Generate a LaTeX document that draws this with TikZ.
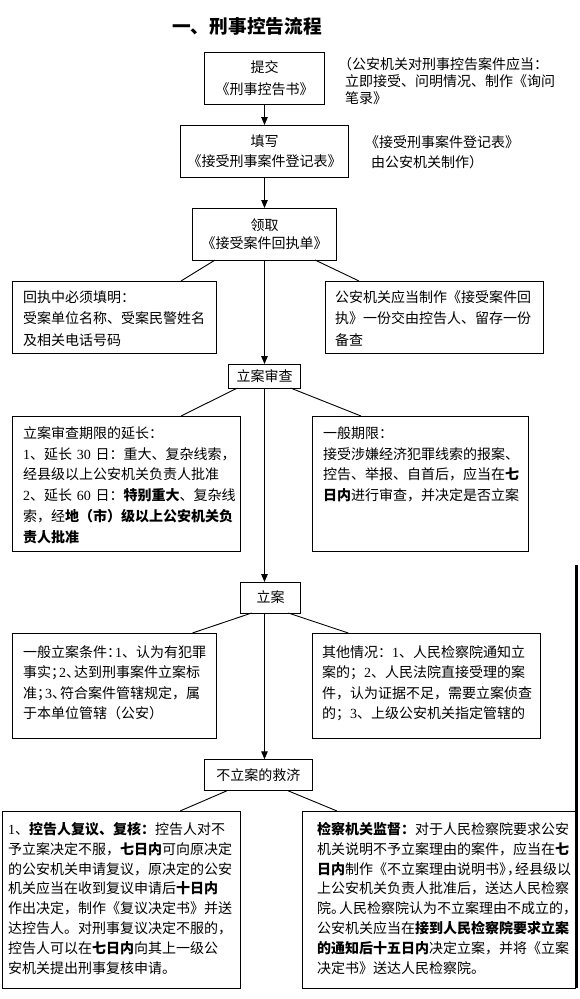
\documentclass[tikz,border=0pt]{standalone}
\usepackage{fontspec}
\setmainfont{Noto Sans CJK SC}
\newfontfamily\lat{Liberation Serif}
\usetikzlibrary{arrows.meta}
\newcommand\sq{\hspace{-6pt}}
\begin{document}
\begin{tikzpicture}[x=1pt,y=-1pt,
  box/.style={draw, line width=1pt, inner sep=0pt, outer sep=0pt, rectangle},
  arr/.style={line width=1pt, -{Triangle[length=8pt,width=6.5pt]}},
  ln/.style={line width=0.9pt},
  txt/.style={inner sep=0pt, anchor=base west, align=left, text width=280pt},
  fs/.style={font=\fontsize{14pt}{#1pt}\selectfont},
]
\useasboundingbox (0,0) rectangle (580,999);
\fill[white] (0,0) rectangle (580,999);

\node[font=\fontsize{18.7pt}{20pt}\selectfont\bfseries, inner sep=0pt] (title) at (247,26) {一、刑事控告流程};

% main column boxes
\node[box, minimum width=120pt, minimum height=52pt, align=center, fs=22] (b1) at (264.5,78) {提交\\《刑事控告书》};
\node[box, minimum width=168pt, minimum height=52pt, align=center, fs=20] (b2) at (264.5,151) {填写\\《接受刑事案件登记表》};
\node[box, minimum width=144pt, minimum height=52pt, align=center, fs=18] (b3) at (264.5,234) {领取\\《接受案件回执单》};
\node[box, minimum width=72pt, minimum height=24pt, fs=20] (sc) at (264.5,376) {立案审查};
\node[box, minimum width=60pt, minimum height=31pt, fs=20] (la) at (270.7,597.5) {立案};
\node[box, minimum width=108.5pt, minimum height=31.5pt, fs=20] (nl) at (258.25,775) {不立案的救济};

% side boxes
\node[box, minimum width=204.4pt, minimum height=72pt] (l1) at (114.2,317) {};
\node[box, minimum width=218pt, minimum height=72pt] (r1) at (434,317) {};
\node[box, minimum width=228.5pt, minimum height=135pt] (l2) at (126.25,483.5) {};
\node[box, minimum width=215.4pt, minimum height=135pt] (r2) at (420.3,483.5) {};
\node[box, minimum width=204.4pt, minimum height=105pt] (l3) at (114.2,685.5) {};
\node[box, minimum width=228.4pt, minimum height=105pt] (r3) at (426.5,685.5) {};
\node[box, minimum width=238pt, minimum height=177pt] (l4) at (121,899.5) {};
\node[box, minimum width=273.5pt, minimum height=177pt] (r4) at (438.75,899.5) {};

% notes
\node[txt, fs=17] (n1) at (345,69.3) {\hspace*{-7pt}（公安机关对刑事控告案件应当：\\立即接受、问明情况、制作《询问\\笔录》};
\node[txt, fs=20] (n2) at (371,147.3) {\hspace*{-6pt}《接受刑事案件登记表》\\由公安机关制作）};

% box texts
\node[txt, fs=21.5] (l1t) at (23,302.3) {回执中必须填明：\\受案单位名称、受案民警姓名\\及相关电话号码};
\node[txt, fs=21.5] (r1t) at (335,302.3) {公安机关应当制作《接受案件回\\执》一份交由控告人、留存一份\\备查};
\node[txt, fs=20.8] (l2t) at (23,438.3) {立案审查期限的延长：\\{\lat 1}、延长{\lat\ 30\ }日：重大、复杂线索，\\经县级以上公安机关负责人批准\\{\lat 2}、延长{\lat\ 60\ }日：\textbf{特别重大}、复杂线\\索，经\textbf{地（市）级以上公安机关负}\\\textbf{责人批准}};
\node[txt, fs=20.7] (r2t) at (323,438.3) {一般期限：\\接受涉嫌经济犯罪线索的报案、\\控告、举报、自首后，应当在\textbf{七}\\\textbf{日内}进行审查，并决定是否立案};
\node[txt, fs=20.4] (l3t) at (23,657.3) {一般立案条件：\sq{}{\lat 1}、认为有犯罪\\事实；\sq{}{\lat 2}、\sq{}达到刑事案件立案标\\准；\sq{}{\lat 3}、\sq{}符合案件管辖规定，属\\于本单位管辖（公安）};
\node[txt, fs=20.4] (r3t) at (322,657.3) {其他情况：{\lat 1}、人民检察院通知立\\案的；{\lat 2}、人民法院直接受理的案\\件，认为证据不足，需要立案侦查\\的；{\lat 3}、上级公安机关指定管辖的};
\node[txt, fs=19.85] (l4t) at (8,834.3) {{\lat 1}、\textbf{控告人复议、复核：}控告人对不\\予立案决定不服，\textbf{七日内}可向原决定\\的公安机关申请复议，原决定的公安\\机关应当在收到复议申请后\textbf{十日内}\\作出决定，制作《复议决定书》并送\\达控告人。对刑事复议决定不服的，\\控告人可以在\textbf{七日内}向其上一级公\\安机关提出刑事复核申请。};
\node[txt, fs=19.85] (r4t) at (317,834.3) {\textbf{检察机关监督：}对于人民检察院要求公安\\机关说明不予立案理由的案件，应当在\textbf{七}\\\textbf{日内}制作《不立案理由说明书》\sq{}，\sq{}经县级以\\上公安机关负责人批准后，送达人民检察\\院。\sq{}人民检察院认为不立案理由不成立的，\\公安机关应当在\textbf{接到人民检察院要求立案}\\\textbf{的通知后十五日内}决定立案，并将《立案\\决定书》送达人民检察院。};

% main arrows
\draw[arr] (b1.south) -- (b2.north);
\draw[arr] (b2.south) -- (b3.north);
\draw[arr] (b3.south) -- (sc.north);
\draw[arr] (sc.south) -- (sc.south |- la.north);
\draw[arr] (la.south -| sc.south) -- (sc.south |- nl.north);

% diagonal links
\draw[ln] ([xshift=22.6pt]b3.south west) -- ([xshift=-35.4pt]l1.north east);
\draw[ln] ([xshift=-21.5pt]b3.south east) -- ([xshift=34pt]r1.north west);
\draw[ln] ([xshift=9pt]sc.south west) -- ([xshift=-59.5pt]l2.north east);
\draw[ln] ([xshift=-10pt]sc.south east) -- ([xshift=48.4pt]r2.north west);
\draw[ln] ([xshift=11pt]la.south west) -- ([xshift=-24pt]l3.north east);
\draw[ln] ([xshift=-12.4pt]la.south east) -- ([xshift=36pt]r3.north west);
\draw[ln] ([xshift=23pt]nl.south west) -- ([xshift=-60pt]l4.north east);
\draw[ln] ([xshift=-24.5pt]nl.south east) -- ([xshift=35pt]r4.north west);

% right page edge bar
\draw[line width=3pt] (576.5,565) -- (576.5,988);
\end{tikzpicture}
\end{document}
